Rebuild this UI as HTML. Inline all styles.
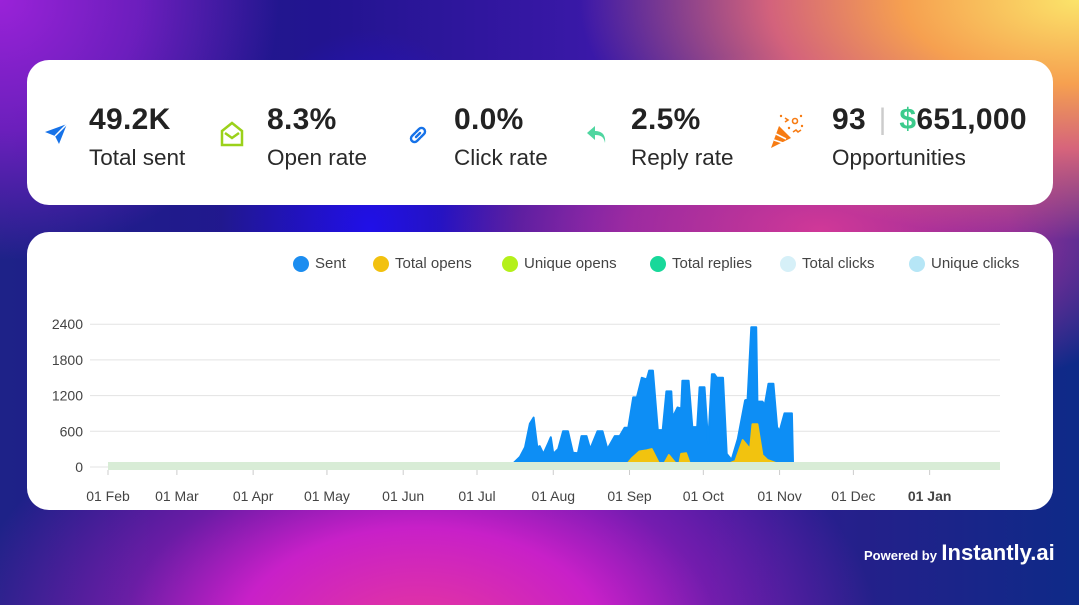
<!DOCTYPE html>
<html><head><meta charset="utf-8"><style>
*{margin:0;padding:0;box-sizing:border-box}
body{width:1079px;height:605px;overflow:hidden;font-family:"Liberation Sans",sans-serif;position:relative;
background:
radial-gradient(ellipse 500px 240px at 1079px 0px,#fbe46a 0%,#f6a050 35%,rgba(240,110,120,0.85) 62%,rgba(0,0,0,0) 100%),
radial-gradient(ellipse 280px 260px at 0px 0px,#9a22d8 0%,rgba(140,30,210,0.7) 50%,rgba(0,0,0,0) 100%),
radial-gradient(ellipse 380px 180px at 820px 230px,#d03898 0%,rgba(200,50,160,0.7) 50%,rgba(0,0,0,0) 100%),
radial-gradient(ellipse 460px 280px at 420px 640px,#e8389a 0%,#c820c8 40%,rgba(180,30,190,0.5) 65%,rgba(0,0,0,0) 100%),
radial-gradient(ellipse 150px 200px at 370px 230px,#2010e8 0%,rgba(30,20,220,0) 100%),
linear-gradient(90deg,#1e2288 0%,#221490 30%,#3a18a8 55%,#24208a 80%,#0e2a88 100%);}
.card{position:absolute;left:27px;width:1026px;background:#fff;border-radius:22px}
.ico{position:absolute;top:62px}
.val{position:absolute;top:43px;font-size:30px;font-weight:bold;color:#222;white-space:nowrap;letter-spacing:0.3px}
.lab{position:absolute;top:85px;font-size:22.5px;color:#2a2a2a;white-space:nowrap}
.leg{position:absolute;top:255px;font-size:15px;color:#444;display:flex;align-items:center;white-space:nowrap}
.leg i{display:inline-block;width:16px;height:16px;border-radius:50%;margin-right:6px}
</style></head><body>
<div class="card" style="top:60px;height:145px">
 <svg class="ico" style="left:16px" width="26" height="24" viewBox="0 0 26 24"><path d="M2 10 L24 2 L16 22 L12 14 Z" fill="#1672e8"/><path d="M12 14 L24 2" stroke="#fff" stroke-width="1.5"/></svg>
 <div class="val" style="left:62px">49.2K</div>
 <div class="lab" style="left:62px">Total sent</div>
 <svg class="ico" style="left:193px;top:61px" width="24" height="26" viewBox="0 0 24 26"><path d="M2 10 L12 2 L22 10 V24 H2 Z" fill="none" stroke="#9bd11a" stroke-width="2.5"/><path d="M5 12 L12 17 L19 12" fill="none" stroke="#9bd11a" stroke-width="2.5"/></svg>
 <div class="val" style="left:240px">8.3%</div>
 <div class="lab" style="left:240px">Open rate</div>
 <svg class="ico" style="left:380px;top:64px" width="22" height="22" viewBox="0 0 22 22"><path d="M9 13 L13 9 M8 9 L5 12 a3 3 0 0 0 5 5 L13 14 M14 13 L17 10 a3 3 0 0 0 -5 -5 L9 8" fill="none" stroke="#1672e8" stroke-width="2.4" stroke-linecap="round"/></svg>
 <div class="val" style="left:427px">0.0%</div>
 <div class="lab" style="left:427px">Click rate</div>
 <svg class="ico" style="left:558px;top:64px" width="24" height="22" viewBox="0 0 24 22"><path d="M10 2 L2 9 L10 16 V11 C16 11 19 13 20 19 C21 11 17 7 10 7 Z" fill="#4fd6a0"/></svg>
 <div class="val" style="left:604px">2.5%</div>
 <div class="lab" style="left:604px">Reply rate</div>
 <svg class="ico" style="left:742px;top:52px" width="36" height="38" viewBox="0 0 36 38"><path d="M2 36 L10 14 L22 26 Z" fill="#f77b12"/><path d="M5 28 L14 31 M7 22 L17 27" stroke="#fff" stroke-width="1.6"/><g stroke="#f77b12" stroke-width="1.6" fill="none"><path d="M16 6 l3 2 l-3 2"/><circle cx="26" cy="9" r="2.5"/><path d="M24 20 l3 -2 l2 2 l3 -2"/></g><g fill="#f77b12"><circle cx="12" cy="4" r="1.2"/><circle cx="32" cy="4" r="1.2"/><circle cx="33" cy="14" r="1.2"/><circle cx="20" cy="16" r="1.2"/></g></svg>
 <div class="val" style="left:805px">93 <span style="color:#ccc;font-weight:normal;margin:0 4px">|</span> <span style="color:#3ccb8c">$</span>651,000</div>
 <div class="lab" style="left:805px">Opportunities</div>
</div>
<div class="card" style="top:232px;height:278px"></div>
<div class="leg" style="left:293px"><i style="background:#1c8df0"></i>Sent</div>
<div class="leg" style="left:373px"><i style="background:#f2c10f"></i>Total opens</div>
<div class="leg" style="left:502px"><i style="background:#b4f01a"></i>Unique opens</div>
<div class="leg" style="left:650px"><i style="background:#18d89a"></i>Total replies</div>
<div class="leg" style="left:780px"><i style="background:#d6f0f8"></i>Total clicks</div>
<div class="leg" style="left:909px"><i style="background:#b6e6f6"></i>Unique clicks</div>
<svg id="chart" style="position:absolute;left:0;top:0" width="1079" height="605"></svg>
<div style="position:absolute;left:864px;top:540px;color:#fff;white-space:nowrap"><span style="font-size:13px;font-weight:bold">Powered by</span> <span style="font-size:22px;font-weight:bold">Instantly.ai</span></div>
<script>
const yTicks=[0,600,1200,1800,2400];
const xLabels=["01 Feb","01 Mar","01 Apr","01 May","01 Jun","01 Jul","01 Aug","01 Sep","01 Oct","01 Nov","01 Dec","01 Jan"];
const xLabelDays=[0,28,59,89,120,150,181,212,242,273,303,334];
const sentDays=[164.5,167.5,169.5,171.5,173,174.5,175.5,177,179,180,181,183,185,187,189,191,192.5,194.5,196,199,201,203,206,208,210,211.5,213.5,215,217,219,220,221.5,223.5,225.5,227,229,229.5,231.5,233,233.5,236,237.5,239.5,240.5,242.5,244,245.5,246.5,247.5,250,251.5,253.5,256,259,260,261.5,263.5,264,266,267,268.5,270.5,272,273,275,278,278.5];
const sentValues=[50,170,330,730,830,330,350,220,400,500,220,300,600,600,240,230,520,520,300,600,600,300,520,520,660,660,1170,1170,1500,1470,1620,1620,620,620,1270,1270,830,1000,980,1450,1450,670,670,1340,1340,400,1560,1560,1500,1500,220,120,470,1120,1140,2350,2350,1100,1100,1040,1400,1400,670,600,900,900,0];
const opensDays=[164,165,167,210,213,216,219,221,224,226,228,230,232,233,235,237,246,248,250,255,258,261,262,264,266,268,272,276,285,300];
const opensValues=[0,60,0,0,150,260,280,300,60,50,200,100,0,220,230,0,0,60,20,100,450,300,720,720,200,120,60,50,30,0];
const svg=document.getElementById('chart');const NS='http://www.w3.org/2000/svg';
const X=d=>108+d*2.46, Y=v=>467-v*0.0595;
function mk(t,a){const e=document.createElementNS(NS,t);for(const k in a)e.setAttribute(k,a[k]);svg.appendChild(e);return e;}
yTicks.forEach(t=>{const l=mk('line',{x1:90,x2:1000,y1:Y(t),y2:Y(t),stroke:'#e3e3e3','stroke-width':1});


const tx=mk('text',{x:83,y:Y(t)+5,'text-anchor':'end','font-size':14,fill:'#444','font-family':'Liberation Sans'});tx.textContent=t;

});
function area(days,vals,col,name){let d='M'+X(days[0])+','+Y(0);days.forEach((x,i)=>d+=' L'+X(x).toFixed(1)+','+Y(vals[i]).toFixed(1));d+=' L'+X(days[days.length-1])+','+Y(0)+'Z';
const p=mk('path',{d:d,fill:col,stroke:col,'stroke-width':2,'stroke-linejoin':'round'});

}
area(sentDays,sentValues,'#0d8ef5','sent-area');
area(opensDays,opensValues,'#f2c30f','total-opens-area');
const band=mk('rect',{x:108,y:462,width:892,height:8,fill:'#d8ecd6'});


xLabels.forEach((s,i)=>{const x=X(xLabelDays[i]);
const tk=mk('line',{x1:x,x2:x,y1:470,y2:475,stroke:'#ccc'});


const tx=mk('text',{x:x,y:501,'text-anchor':'middle','font-size':14,fill:'#444','font-family':'Liberation Sans','font-weight':s=='01 Jan'?'bold':'normal'});tx.textContent=s;

});
</script>
</body></html>
